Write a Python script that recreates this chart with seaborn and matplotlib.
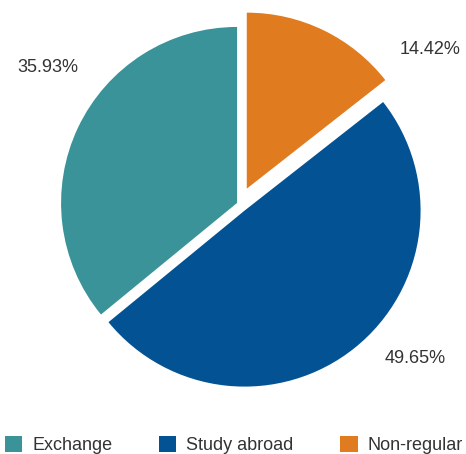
import numpy as np
import matplotlib
matplotlib.use('Agg')
import matplotlib.pyplot as plt
import seaborn as sns
from matplotlib.patches import Patch

# data, in drawing order (clockwise from 12 o'clock)
categories = ['Non-regular', 'Study abroad', 'Exchange']
shares = [14.42, 49.65, 35.93]
explode = [0.097, 0.048, 0.014]
colors = ['#E07B1F', '#035394', '#3A9399']
legend_order = ['Exchange', 'Study abroad', 'Non-regular']

# where the percentage labels sit (pie radius = 1)
label_pos = [(1.083, 0.875), (0.998, -0.878), (-1.087, 0.778)]

sns.set_theme(style='white')
plt.rcParams['font.family'] = ['Liberation Sans', 'DejaVu Sans']

W, H, dpi = 466, 454, 100
fig = plt.figure(figsize=(W / dpi, H / dpi), dpi=dpi)
ax = fig.add_axes([0, 0, 1, 1])

palette = sns.color_palette(colors)
wedges, texts, autotexts = ax.pie(
    shares, explode=explode, colors=palette, startangle=90, counterclock=False,
    radius=1, autopct='%.2f%%', pctdistance=1.2,
    wedgeprops=dict(linewidth=0), textprops=dict(fontsize=13, color='#333333'))
for t, (x, y) in zip(autotexts, label_pos):
    t.set_position((x, y))
    t.set_ha('center')
    t.set_va('center')

# pixel-based limits so that radius 1 = 176 px, centre at (239, 204) from top-left
R, cx, cy = 176.0, 239.3, 204.0
ax.set_xlim(-cx / R, (W - cx) / R)
ax.set_ylim(-(H - cy) / R, cy / R)
ax.set_aspect('auto')
ax.axis('off')

col_of = dict(zip(categories, palette))
handles = [Patch(facecolor=col_of[c], edgecolor='none', label=c) for c in legend_order]
fig.legend(handles=handles, loc='center left', bbox_to_anchor=(5 / W, 1 - 445 / H),
           ncol=3, frameon=False, fontsize=13, borderpad=0, borderaxespad=0,
           handlelength=0.95, handleheight=0.95, handletextpad=0.55,
           columnspacing=2.6, labelcolor='#333333')

fig.savefig('out.png', dpi=dpi)
